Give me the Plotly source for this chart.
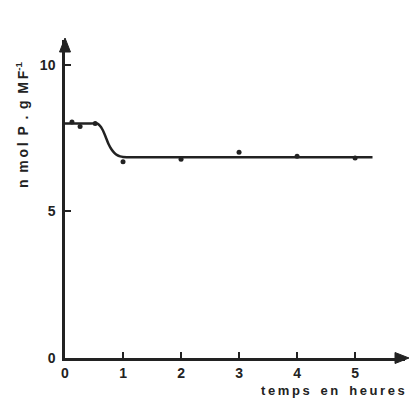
import plotly.graph_objects as go

# measured points
pt_x = [0.12, 0.26, 0.52, 1.0, 2.0, 3.0, 4.0, 5.0]
pt_y = [8.05, 7.9, 8.0, 6.7, 6.78, 7.02, 6.88, 6.82]

# fitted curve (as drawn)
curve_x = [0.0, 0.2, 0.4, 0.55, 0.6, 0.65, 0.7, 0.75, 0.8, 0.85, 0.9, 0.95, 1.0, 1.2, 1.5, 2.0, 3.0, 4.0, 5.0, 5.3]
curve_y = [8.0, 8.0, 8.0, 8.0, 7.93, 7.78, 7.55, 7.3, 7.12, 7.0, 6.92, 6.88, 6.86, 6.85, 6.85, 6.85, 6.85, 6.85, 6.85, 6.85]

x_ticks = [0, 1, 2, 3, 4, 5]
y_ticks = [0, 5, 10]

ink = "#222222"
font = dict(family="Liberation Sans, Arial, sans-serif", size=14, color=ink)

W, H = 411, 401
ML, MR, MT, MB = 65, 6, 40, 43
PW, PH = W - ML - MR, H - MT - MB

def px(x):
    return (x - ML) / PW

def py(y):
    return (H - MB - y) / PH

fig = go.Figure()
fig.add_trace(go.Scatter(x=curve_x, y=curve_y, mode="lines",
                         line=dict(color=ink, width=2.5, shape="spline", smoothing=0.6),
                         hoverinfo="skip"))
fig.add_trace(go.Scatter(x=pt_x, y=pt_y, mode="markers",
                         marker=dict(color=ink, size=5)))

XMAX = 5.86
YMAX = 10.85

fig.update_layout(
    width=W, height=H,
    margin=dict(l=ML, r=MR, t=MT, b=MB),
    paper_bgcolor="white", plot_bgcolor="white",
    showlegend=False,
    font=font,
    xaxis=dict(range=[0, XMAX], tickvals=x_ticks, ticktext=[f"<b>{t}</b>" for t in x_ticks],
               showgrid=False, zeroline=False, showline=True, linecolor=ink, linewidth=2.5,
               ticks="inside", ticklen=6, tickwidth=2, tickcolor=ink,
               tickfont=dict(size=14), fixedrange=True),
    yaxis=dict(range=[0, YMAX], tickvals=y_ticks, ticktext=[f"<b>{t}</b>" for t in y_ticks],
               showgrid=False, zeroline=False, showline=True, linecolor=ink, linewidth=2.5,
               ticks="inside", ticklen=6, tickwidth=2, tickcolor=ink,
               tickfont=dict(size=14), ticklabelstandoff=4, fixedrange=True),
)

# arrow heads (triangles) on axes
x0 = ML
yb = H - MB
fig.add_shape(type="path", xref="paper", yref="paper",
              path=f"M {px(409)} {py(yb)} L {px(395)} {py(yb-5.5)} L {px(395)} {py(yb+5.5)} Z",
              fillcolor=ink, line=dict(color=ink, width=1))
fig.add_shape(type="path", xref="paper", yref="paper",
              path=f"M {px(x0)} {py(38)} L {px(x0-5.5)} {py(52)} L {px(x0+5.5)} {py(52)} Z",
              fillcolor=ink, line=dict(color=ink, width=1))

ts = "\u2009"
nb = "\u00a0"
ytitle = ts.join("n mol P . g MF").replace(" " + ts, " ")
xtitle = (nb * 3).join(ts.join(w) for w in ["temps", "en", "heures"])

fig.add_annotation(text=f"<b>{ytitle}<sup>-1</sup></b>", x=px(22), y=py(125),
                   xref="paper", yref="paper", xanchor="center", yanchor="middle",
                   showarrow=False, textangle=-90, font=dict(size=14, color=ink))
fig.add_annotation(text=f"<b>{xtitle}</b>", x=px(407), y=py(390),
                   xref="paper", yref="paper", xanchor="right", yanchor="middle",
                   showarrow=False, font=dict(size=13, color=ink))

fig.write_html("out.html")
